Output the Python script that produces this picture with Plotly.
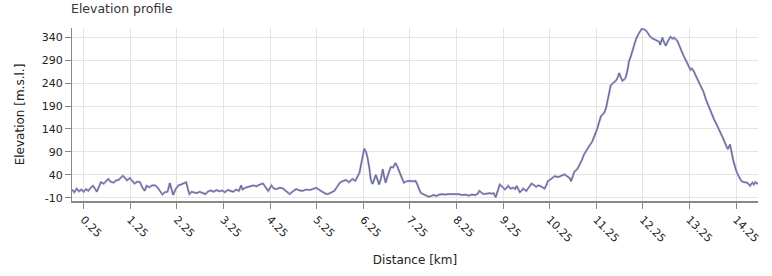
import plotly.graph_objects as go

distance_km = [
    0.00, 0.05, 0.10, 0.15, 0.20, 0.25, 0.30, 0.35, 0.40, 0.45, 0.50, 0.53, 0.58, 0.62, 0.68, 0.73, 0.78, 0.83, 0.89, 0.95,
    1.00, 1.05, 1.09, 1.14, 1.18, 1.24, 1.29, 1.34, 1.40, 1.46, 1.50, 1.56, 1.60, 1.66, 1.72, 1.78, 1.84, 1.90, 1.94, 1.99,
    2.05, 2.10, 2.14, 2.17, 2.22, 2.28, 2.34, 2.40, 2.45, 2.49, 2.52, 2.57, 2.62, 2.68, 2.74, 2.80, 2.86, 2.92, 2.98, 3.04,
    3.10, 3.16, 3.22, 3.28, 3.34, 3.40, 3.46, 3.52, 3.58, 3.63, 3.66, 3.72, 3.80, 3.89, 3.96, 4.03, 4.10, 4.16, 4.21, 4.28,
    4.33, 4.39, 4.46, 4.53, 4.60, 4.67, 4.74, 4.81, 4.88, 4.95, 5.02, 5.10, 5.17, 5.24, 5.31, 5.38, 5.44, 5.49, 5.56, 5.63,
    5.69, 5.74, 5.80, 5.88, 5.94, 6.02, 6.08, 6.13, 6.17, 6.20, 6.24, 6.27, 6.31, 6.34, 6.38, 6.41, 6.45, 6.49, 6.52, 6.56,
    6.59, 6.63, 6.67, 6.70, 6.73, 6.78, 6.84, 6.89, 6.94, 6.98, 7.02, 7.07, 7.12, 7.18, 7.26, 7.33, 7.37, 7.41, 7.45, 7.48,
    7.53, 7.58, 7.62, 7.66, 7.71, 7.76, 7.82, 7.88, 7.94, 8.00, 8.08, 8.15, 8.22, 8.30, 8.37, 8.44, 8.51, 8.58, 8.65, 8.70,
    8.74, 8.79, 8.83, 8.90, 8.96, 9.00, 9.05, 9.09, 9.13, 9.18, 9.23, 9.29, 9.33, 9.36, 9.41, 9.47, 9.51, 9.54, 9.58, 9.61,
    9.65, 9.68, 9.72, 9.75, 9.80, 9.86, 9.91, 9.96, 10.00, 10.04, 10.09, 10.14, 10.18, 10.21, 10.28, 10.36, 10.43, 10.50, 10.57, 10.62,
    10.68, 10.71, 10.74, 10.78, 10.84, 10.89, 10.94, 10.99, 11.04, 11.10, 11.16, 11.21, 11.25, 11.28, 11.32, 11.35, 11.39, 11.42, 11.46, 11.49,
    11.53, 11.56, 11.61, 11.67, 11.71, 11.74, 11.78, 11.81, 11.85, 11.88, 11.92, 11.95, 11.99, 12.02, 12.06, 12.10, 12.15, 12.19, 12.23, 12.27,
    12.31, 12.35, 12.40, 12.46, 12.51, 12.56, 12.60, 12.62, 12.65, 12.67, 12.70, 12.74, 12.78, 12.82, 12.84, 12.88, 12.92, 12.96, 12.99, 13.03,
    13.06, 13.12, 13.17, 13.22, 13.27, 13.30, 13.34, 13.39, 13.45, 13.50, 13.55, 13.60, 13.66, 13.70, 13.73, 13.78, 13.84, 13.88, 13.91, 13.96,
    14.01, 14.04, 14.07, 14.12, 14.15, 14.19, 14.23, 14.26, 14.31, 14.37, 14.42, 14.48, 14.52, 14.55, 14.60, 14.63, 14.66, 14.70, 14.73,
]

elevation_m = [
    8, 2, 10, 4, 8, 3, 9, 5, 12, 16, 9, 3, 14, 24, 21, 27, 31, 25, 23, 28,
    29, 34, 38, 33, 28, 33, 27, 21, 25, 24, 14, 5, 16, 13, 17, 17, 12, 1, -3, 2,
    3, 22, 10, -4, 8, 17, 19, 21, 24, 8, -2, 3, 2, 0, 3, 1, -2, 4, 6, 3,
    7, 4, 6, 2, 7, 5, 3, 8, 5, 17, 8, 12, 14, 17, 15, 19, 21, 12, 5, 17,
    10, 9, 12, 10, 3, -2, 4, 9, 6, 5, 8, 7, 9, 12, 7, 2, -1, -2, 2, 5,
    14, 22, 26, 29, 24, 31, 27, 37, 45, 61, 85, 97, 90, 78, 55, 30, 20, 30, 40, 28,
    19, 32, 52, 35, 23, 40, 57, 56, 66, 58, 48, 35, 23, 26, 27, 26, 27, 19, 10, 1,
    -2, -4, -6, -8, -6, -4, -6, -3, -2, -3, -2, -2, -3, -2, -4, -3, -5, -3, -4, -2,
    5, 0, -2, -1, 0, -1, 0, -9, 5, 19, 14, 8, 12, 16, 10, 12, 9, 16, 8, 2,
    6, 10, 7, 5, 12, 21, 18, 14, 17, 16, 13, 10, 18, 26, 31, 37, 35, 38, 41, 37,
    33, 26, 36, 47, 52, 61, 72, 85, 92, 103, 112, 123, 135, 144, 156, 168, 172, 175, 186, 200,
    218, 235, 240, 245, 252, 262, 252, 245, 248, 252, 268, 287, 298, 308, 322, 335, 346, 353, 359, 357,
    355, 350, 342, 337, 335, 332, 330, 323, 332, 339, 330, 321, 330, 338, 341, 337, 339, 335, 332, 322,
    314, 300, 290, 280, 269, 272, 266, 255, 242, 232, 221, 205, 189, 180, 172, 160, 148, 140, 134, 122,
    110, 102, 96, 106, 88, 71, 57, 47, 36, 26, 24, 23, 20, 16, 23, 19, 24, 21, 23,
]

x_tick_start = 0.25
x_tick_step = 1
y_tick_values = [-10, 40, 90, 140, 190, 240, 290, 340]
y_tick_labels = ["-10", "40", "90", "140", "190", "240", "290", "340"]

fig = go.Figure()
fig.add_trace(go.Scatter(
    x=distance_km, y=elevation_m, mode="lines",
    line=dict(color="#a5a5d8", width=2.2), hoverinfo="skip", showlegend=False,
))
fig.add_trace(go.Scatter(
    x=distance_km, y=elevation_m, mode="lines",
    line=dict(color="#5c5c7c", width=0.9), showlegend=False,
))

font_family = "DejaVu Sans, sans-serif"
fig.update_layout(
    width=772, height=276,
    margin=dict(l=72, r=11, t=28, b=67),
    paper_bgcolor="white", plot_bgcolor="white",
    font=dict(family=font_family, size=11, color="#222"),
    title=dict(text="Elevation profile", x=71 / 772, xref="container", xanchor="left",
               y=1 - 9 / 276, yref="container", yanchor="middle",
               font=dict(size=12.5, color="#333")),
)
fig.update_xaxes(
    range=[0, 14.72], tick0=x_tick_start, dtick=x_tick_step, tickformat=".2f",
    tickangle=45, ticks="outside", ticklen=6, tickcolor="#888", tickwidth=1,
    showline=True, linecolor="#888", linewidth=2,
    showgrid=True, gridcolor="#e4e4e4", gridwidth=1, zeroline=False,
    title=dict(text="Distance [km]", font=dict(size=12), standoff=12),
    tickfont=dict(size=11),
)
fig.update_yaxes(
    range=[-17, 360], tickvals=y_tick_values, ticktext=y_tick_labels, ticks="outside", ticklen=6,
    tickcolor="#888", tickwidth=1, showline=True, linecolor="#888", linewidth=1,
    showgrid=True, gridcolor="#e4e4e4", gridwidth=1, zeroline=False,
    title=dict(text="Elevation [m.s.l.]", font=dict(size=12), standoff=14),
    tickfont=dict(size=11),
)

fig.write_html("out.html")
